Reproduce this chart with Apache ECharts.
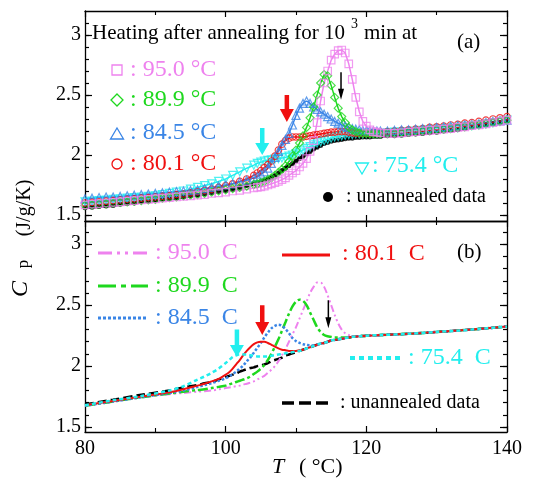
<!DOCTYPE html>
<html><head><meta charset="utf-8">
<script src="https://cdn.jsdelivr.net/npm/echarts@6/dist/echarts.min.js"></script>
<style>html,body{margin:0;padding:0;background:#fff}#c{width:533px;height:498px}</style>
</head><body><div id="c"></div>
<script>
// ---------- data: panel (a) measured points ----------
const T_A = [80,81,82,83,84,85,86,87,88,89,90,91,92,93,94,95,96,97,98,99,100,101,102,103,104,
  104.5,105,105.5,106,106.5,107,107.5,108,108.5,109,109.5,110,110.5,111,111.5,112,112.5,113,113.5,114,114.5,115,115.5,116,116.5,117,117.5,118,118.5,119,119.5,120,120.5,121,121.5,122,
  123,124,125,126,127,128,129,130,131,132,133,134,135,136,137,138,139,140];
const cpA_un = [1.56,1.565,1.57,1.575,1.58,1.59,1.595,1.60,1.61,1.615,1.62,1.63,1.635,1.64,1.65,1.66,1.665,1.675,1.685,1.695,1.705,1.715,1.73,1.745,1.76,
  1.77,1.78,1.79,1.80,1.815,1.83,1.85,1.87,1.89,1.91,1.93,1.95,1.97,1.99,2.01,2.03,2.05,2.065,2.08,2.095,2.105,2.115,2.12,2.125,2.13,2.135,2.14,2.14,2.145,2.145,2.15,2.15,2.15,2.155,2.155,2.155,
  2.16,2.16,2.165,2.17,2.175,2.18,2.185,2.19,2.20,2.205,2.21,2.22,2.23,2.24,2.25,2.26,2.27,2.28];
const cpA_950 = [1.585,1.59,1.595,1.60,1.605,1.61,1.615,1.62,1.625,1.63,1.635,1.64,1.645,1.65,1.655,1.66,1.665,1.67,1.68,1.685,1.69,1.70,1.705,1.715,1.725,
  1.73,1.735,1.74,1.75,1.76,1.77,1.78,1.795,1.81,1.83,1.85,1.87,1.90,1.93,1.97,2.03,2.12,2.27,2.45,2.60,2.70,2.79,2.84,2.87,2.875,2.85,2.76,2.63,2.48,2.36,2.28,2.24,2.21,2.195,2.19,2.185,
  2.18,2.18,2.185,2.19,2.195,2.20,2.205,2.21,2.215,2.22,2.23,2.235,2.245,2.25,2.26,2.27,2.28,2.29];
const cpA_899 = [1.58,1.585,1.59,1.595,1.60,1.605,1.61,1.615,1.62,1.625,1.63,1.64,1.645,1.65,1.66,1.665,1.67,1.68,1.69,1.70,1.71,1.72,1.73,1.74,1.755,
  1.76,1.77,1.78,1.795,1.81,1.83,1.855,1.88,1.91,1.945,1.99,2.04,2.10,2.16,2.23,2.31,2.40,2.50,2.60,2.67,2.66,2.58,2.48,2.39,2.32,2.27,2.23,2.21,2.195,2.185,2.18,2.18,2.175,2.175,2.175,2.175,
  2.18,2.18,2.185,2.19,2.195,2.20,2.205,2.21,2.215,2.22,2.23,2.235,2.245,2.25,2.26,2.27,2.28,2.29];
const cpA_845 = [1.635,1.64,1.645,1.65,1.65,1.655,1.66,1.665,1.67,1.675,1.68,1.685,1.69,1.695,1.70,1.705,1.71,1.72,1.73,1.74,1.75,1.76,1.775,1.79,1.81,
  1.82,1.84,1.86,1.89,1.93,1.98,2.03,2.08,2.13,2.18,2.25,2.33,2.39,2.43,2.45,2.43,2.40,2.38,2.36,2.34,2.32,2.30,2.28,2.265,2.25,2.24,2.23,2.22,2.215,2.21,2.205,2.20,2.20,2.20,2.20,2.20,
  2.20,2.205,2.21,2.21,2.215,2.22,2.225,2.23,2.235,2.24,2.245,2.25,2.255,2.26,2.27,2.28,2.285,2.29];
const cpA_801 = [1.60,1.605,1.61,1.615,1.62,1.625,1.63,1.635,1.64,1.645,1.65,1.655,1.66,1.67,1.675,1.685,1.695,1.705,1.715,1.73,1.745,1.76,1.78,1.80,1.83,
  1.85,1.87,1.895,1.92,1.95,1.99,2.04,2.09,2.12,2.14,2.15,2.15,2.15,2.15,2.155,2.16,2.165,2.17,2.175,2.18,2.185,2.19,2.19,2.195,2.195,2.195,2.19,2.185,2.18,2.18,2.18,2.18,2.18,2.185,2.185,2.19,
  2.195,2.20,2.205,2.21,2.215,2.22,2.23,2.235,2.24,2.25,2.255,2.265,2.27,2.28,2.29,2.30,2.31,2.32];
const cpA_754 = [1.61,1.615,1.62,1.625,1.63,1.635,1.64,1.645,1.65,1.655,1.66,1.67,1.68,1.69,1.70,1.715,1.73,1.745,1.76,1.78,1.80,1.83,1.86,1.89,1.915,
  1.93,1.94,1.95,1.955,1.96,1.965,1.97,1.975,1.98,1.99,2.00,2.01,2.025,2.04,2.055,2.07,2.085,2.10,2.11,2.12,2.13,2.14,2.15,2.155,2.16,2.165,2.17,2.17,2.175,2.175,2.175,2.18,2.18,2.18,2.18,2.18,
  2.185,2.19,2.19,2.195,2.20,2.205,2.21,2.215,2.22,2.225,2.23,2.24,2.245,2.25,2.26,2.27,2.28,2.29];

// ---------- data: panel (b) fitted curves ----------
const T_B = [80,84,88,92,94,96,97,98,99,
  100,100.5,101,101.5,102,102.5,103,103.5,104,104.5,105,105.5,106,106.5,107,107.5,108,108.5,109,109.5,110,110.5,111,111.5,112,112.5,113,113.5,114,114.5,115,115.5,116,116.5,117,117.5,118,
  119,120,122,126,130,135,140];
const cpB_un = [1.685,1.725,1.765,1.80,1.825,1.845,1.86,1.87,1.89,
  1.91,1.92,1.93,1.94,1.955,1.965,1.975,1.985,1.99,2.00,2.005,2.015,2.025,2.04,2.05,2.06,2.07,2.085,2.095,2.105,2.115,2.125,2.135,2.145,2.155,2.165,2.175,2.185,2.19,2.20,2.21,2.215,2.22,2.225,2.23,2.235,2.24,
  2.245,2.25,2.255,2.265,2.28,2.30,2.325];
const cpB_950 = [1.675,1.71,1.745,1.77,1.78,1.79,1.795,1.80,1.81,
  1.82,1.825,1.83,1.835,1.84,1.85,1.855,1.865,1.875,1.89,1.905,1.92,1.945,1.97,2.00,2.04,2.09,2.14,2.20,2.26,2.32,2.39,2.46,2.53,2.60,2.65,2.685,2.685,2.65,2.58,2.50,2.42,2.35,2.30,2.27,2.255,2.245,
  2.245,2.25,2.255,2.265,2.28,2.30,2.325];
const cpB_899 = [1.675,1.71,1.745,1.775,1.79,1.805,1.81,1.82,1.83,
  1.84,1.85,1.86,1.87,1.88,1.89,1.90,1.915,1.935,1.955,1.98,2.01,2.05,2.10,2.16,2.22,2.29,2.36,2.43,2.49,2.53,2.545,2.535,2.50,2.44,2.38,2.32,2.28,2.255,2.245,2.24,2.235,2.235,2.235,2.235,2.235,2.24,
  2.245,2.25,2.255,2.265,2.28,2.30,2.325];
const cpB_845 = [1.675,1.71,1.745,1.78,1.80,1.83,1.845,1.86,1.88,
  1.90,1.915,1.935,1.955,1.98,2.005,2.04,2.07,2.11,2.15,2.19,2.235,2.275,2.31,2.33,2.34,2.33,2.305,2.27,2.23,2.205,2.19,2.18,2.175,2.17,2.17,2.175,2.185,2.19,2.20,2.21,2.215,2.22,2.225,2.23,2.235,2.24,
  2.245,2.25,2.255,2.265,2.28,2.30,2.325];
const cpB_801 = [1.68,1.715,1.75,1.785,1.81,1.84,1.855,1.875,1.895,
  1.93,1.95,1.98,2.015,2.05,2.09,2.125,2.155,2.18,2.195,2.20,2.20,2.19,2.175,2.16,2.145,2.135,2.13,2.125,2.125,2.125,2.13,2.135,2.145,2.155,2.165,2.175,2.185,2.19,2.20,2.21,2.215,2.22,2.225,2.23,2.235,2.24,
  2.245,2.25,2.255,2.265,2.28,2.30,2.325];
const cpB_754 = [1.68,1.72,1.755,1.80,1.835,1.89,1.915,1.945,1.98,
  2.025,2.05,2.075,2.09,2.095,2.095,2.095,2.09,2.085,2.08,2.08,2.08,2.08,2.085,2.09,2.095,2.10,2.105,2.11,2.115,2.12,2.125,2.135,2.145,2.155,2.165,2.175,2.185,2.19,2.20,2.21,2.215,2.22,2.225,2.23,2.235,2.24,
  2.245,2.25,2.255,2.265,2.28,2.30,2.325];

// arrows: [T, Cp at tail, Cp at tip]
const arrowsA = [[105.2, 2.225, 2.0], [108.7, 2.5, 2.275], [116.4, 2.69, 2.46]];
const arrowsB = [[101.6, 2.30, 2.075], [105.2, 2.50, 2.255], [114.6, 2.54, 2.31]];

// tick labels
const xTicks = [80, 100, 120, 140];
const yMajor = [1.5, 2, 2.5, 3];
const yMinor = [1.5,1.6,1.7,1.8,1.9,2.0,2.1,2.2,2.3,2.4,2.5,2.6,2.7,2.8,2.9,3.0,3.1];

// ---------- styles ----------
const FONT = '"Liberation Serif", "Times New Roman", serif';
const C95 = '#EE82EE', C90 = '#1ED81E', C85 = '#3A85E6', C80 = '#F01010', C75 = '#22EEEE', CK = '#000000';

function zip(xs, ys) { return xs.map((x, i) => [x, ys[i]]); }

function xAx(grid, pos, labels) {
  return { type: 'value', gridIndex: grid, position: pos, min: xTicks[0], max: xTicks[xTicks.length - 1], interval: 20,
    axisLine: { show: true, onZero: false, lineStyle: { color: '#000', width: 1.3 } },
    axisTick: { show: true, inside: true, length: 6, lineStyle: { color: '#000', width: 1.2 } },
    minorTick: { show: true, splitNumber: 2, length: 4, lineStyle: { color: '#000', width: 1.1 } },
    splitLine: { show: false }, minorSplitLine: { show: false },
    axisLabel: { show: labels, fontFamily: FONT, fontSize: 20, color: '#000', margin: 7 } };
}
function yAx(grid, pos, min, max, ticks, len, labels, line) {
  return { type: 'value', gridIndex: grid, position: pos, min: min, max: max,
    axisLine: { show: line, onZero: false, lineStyle: { color: '#000', width: 1.3 } },
    axisTick: { show: true, inside: true, length: len, customValues: ticks, lineStyle: { color: '#000', width: 1.2 } },
    splitLine: { show: false },
    axisLabel: { show: labels, customValues: yMajor, fontFamily: FONT, fontSize: 20, color: '#000', margin: 4 } };
}

function scat(data, symbol, size, color, filled, rot) {
  return { type: 'scatter', xAxisIndex: 0, yAxisIndex: 0, data: data, symbol: symbol, symbolSize: size,
    symbolRotate: rot || 0, silent: true, z: 3,
    itemStyle: filled ? { color: color } : { color: 'rgba(0,0,0,0)', borderColor: color, borderWidth: 1.2 } };
}
// thin trace joining the densely-packed measured markers of panel (a)
function trace(data, color, width) {
  return { type: 'line', xAxisIndex: 0, yAxisIndex: 0, data: data, showSymbol: false, silent: true, z: 2,
    lineStyle: { color: color, width: width } };
}
function line(data, color, width, dash) {
  return { type: 'line', xAxisIndex: 2, yAxisIndex: 4, data: data, showSymbol: false, smooth: 0.3, silent: true,
    lineStyle: { color: color, width: width, type: dash } };
}
const arrowStyles = [
  { c: C75, w: 4.5, hw: 14, hl: 12 },
  { c: C80, w: 4.5, hw: 14, hl: 13 },
  { c: CK, w: 1.5, hw: 6, hl: 11 }
];
function arrows(xi, yi, data) {
  return { type: 'custom', xAxisIndex: xi, yAxisIndex: yi, data: data, silent: true, z: 10, clip: false,
    renderItem: function (params, api) {
      const s = arrowStyles[params.dataIndex];
      const a = api.coord([api.value(0), api.value(1)]);
      const b = api.coord([api.value(0), api.value(2)]);
      const x = a[0], y1 = a[1], y2 = b[1], hy = y2 - s.hl;
      return { type: 'polygon', shape: { points: [[x - s.w / 2, y1], [x + s.w / 2, y1], [x + s.w / 2, hy], [x + s.hw / 2, hy],
        [x, y2], [x - s.hw / 2, hy], [x - s.w / 2, hy]] }, style: { fill: s.c } };
    } };
}

function txt(x, y, text, size, color, italic) {
  return { type: 'text', x: x, y: y, silent: true,
    style: { text: text, font: (italic ? 'italic ' : '') + size + 'px ' + FONT, fill: color, align: 'left', verticalAlign: 'middle' } };
}
function vtxt(x, y, text, size, italic) {
  return { type: 'text', x: x, y: y, rotation: Math.PI / 2, silent: true,
    style: { text: text, font: (italic ? 'italic ' : '') + size + 'px ' + FONT, fill: '#000', align: 'center', verticalAlign: 'middle' } };
}
function seg(x1, x2, y, color, width, dash) {
  return { type: 'line', silent: true, shape: { x1: x1, y1: y, x2: x2, y2: y },
    style: { stroke: color, lineWidth: width, lineDash: dash } };
}

const graphics = [
  // panel (a) texts
  txt(92, 33, 'Heating after annealing for 10', 21, '#000'),
  txt(351, 24, '3', 14, '#000'),
  txt(364, 33, 'min at', 21, '#000'),
  txt(457, 42, '(a)', 21, '#000'),
  { type: 'rect', silent: true, shape: { x: 112, y: 65, width: 10, height: 10 }, style: { fill: 'none', stroke: C95, lineWidth: 1.3 } },
  txt(130, 70, ': 95.0 °C', 24, C95),
  { type: 'polygon', silent: true, shape: { points: [[117, 94], [123, 100], [117, 106], [111, 100]] }, style: { fill: 'none', stroke: C90, lineWidth: 1.3 } },
  txt(130, 100, ': 89.9 °C', 24, C90),
  { type: 'polygon', silent: true, shape: { points: [[117, 128], [123.5, 139], [110.5, 139]] }, style: { fill: 'none', stroke: C85, lineWidth: 1.3 } },
  txt(130, 133, ': 84.5 °C', 24, C85),
  { type: 'circle', silent: true, shape: { cx: 117, cy: 164, r: 5 }, style: { fill: 'none', stroke: C80, lineWidth: 1.3 } },
  txt(130, 164, ': 80.1 °C', 24, C80),
  { type: 'polygon', silent: true, shape: { points: [[355.5, 163], [368.5, 163], [362, 174]] }, style: { fill: 'none', stroke: C75, lineWidth: 1.3 } },
  txt(372, 166, ': 75.4 °C', 24, C75),
  { type: 'circle', silent: true, shape: { cx: 328, cy: 197, r: 5 }, style: { fill: CK } },
  txt(346, 197, ': unannealed data', 20, CK),
  // panel (b) legend
  seg(98, 148, 253, C95, 3, [14, 5, 3, 5, 3, 5]),
  txt(155, 253, ': 95.0  C', 24, C95),
  seg(98, 148, 286, C90, 3, [18, 5, 5, 5]),
  txt(155, 286, ': 89.9  C', 24, C90),
  seg(98, 148, 318, C85, 3, [3, 2]),
  txt(155, 318, ': 84.5  C', 24, C85),
  seg(282, 330, 255, C80, 3, null),
  txt(342, 254, ': 80.1  C', 24, C80),
  seg(350, 402, 358, C75, 4, [5, 4]),
  txt(408, 358, ': 75.4  C', 24, C75),
  seg(282, 330, 403, CK, 3.5, [12, 5]),
  txt(340, 403, ': unannealed data', 20, CK),
  txt(457, 252, '(b)', 21, '#000'),
  // axis names
  txt(272, 467, 'T', 22, '#000', true),
  txt(299, 467, '( °C)', 22, '#000'),
  vtxt(21, 289, 'C', 24, true),
  vtxt(24, 264, 'p', 17),
  vtxt(25, 208, '(J/g/K)', 20)
];

const chart = echarts.init(document.getElementById('c'), null, { renderer: 'canvas' });
chart.setOption({
  animation: false,
  backgroundColor: '#fff',
  grid: [
    { left: 85, right: 26, top: 11, height: 210, outerBoundsMode: 'none' },
    { left: 85, right: 26, top: 221, height: 211, outerBoundsMode: 'none' }
  ],
  xAxis: [xAx(0, 'bottom', false), xAx(0, 'top', false), xAx(1, 'bottom', true), xAx(1, 'top', false)],
  yAxis: [
    yAx(0, 'left', 1.45, 3.2, yMajor, 7, true, true),
    yAx(0, 'left', 1.45, 3.2, yMinor, 4, false, false),
    yAx(0, 'right', 1.45, 3.2, yMajor, 7, false, true),
    yAx(0, 'right', 1.45, 3.2, yMinor, 4, false, false),
    yAx(1, 'left', 1.46, 3.19, yMajor, 7, true, true),
    yAx(1, 'left', 1.46, 3.19, yMinor, 4, false, false),
    yAx(1, 'right', 1.46, 3.19, yMajor, 7, false, true),
    yAx(1, 'right', 1.46, 3.19, yMinor, 4, false, false)
  ],
  series: [
    trace(zip(T_A, cpA_un), CK, 3),
    scat(zip(T_A, cpA_un), 'circle', 5, CK, true),
    trace(zip(T_A, cpA_754), C75, 1.5),
    scat(zip(T_A, cpA_754), 'triangle', 8, C75, false, 180),
    trace(zip(T_A, cpA_801), C80, 1.5),
    scat(zip(T_A, cpA_801), 'circle', 6.5, C80, false),
    trace(zip(T_A, cpA_845), C85, 1.5),
    scat(zip(T_A, cpA_845), 'triangle', 8, C85, false),
    trace(zip(T_A, cpA_899), C90, 1.5),
    scat(zip(T_A, cpA_899), 'diamond', 8, C90, false),
    trace(zip(T_A, cpA_950), C95, 1.5),
    scat(zip(T_A, cpA_950), 'rect', 7.5, C95, false),
    arrows(0, 0, arrowsA),
    line(zip(T_B, cpB_un), CK, 2.5, [9, 4]),
    line(zip(T_B, cpB_950), C95, 2, [7, 3, 2, 3, 2, 3]),
    line(zip(T_B, cpB_899), C90, 2.5, [10, 3, 3, 3]),
    line(zip(T_B, cpB_845), C85, 2.5, [2.5, 2]),
    line(zip(T_B, cpB_801), C80, 2, 'solid'),
    line(zip(T_B, cpB_754), C75, 2.5, [4, 3]),
    arrows(2, 4, arrowsB)
  ],
  graphic: { elements: graphics }
});
</script></body></html>
